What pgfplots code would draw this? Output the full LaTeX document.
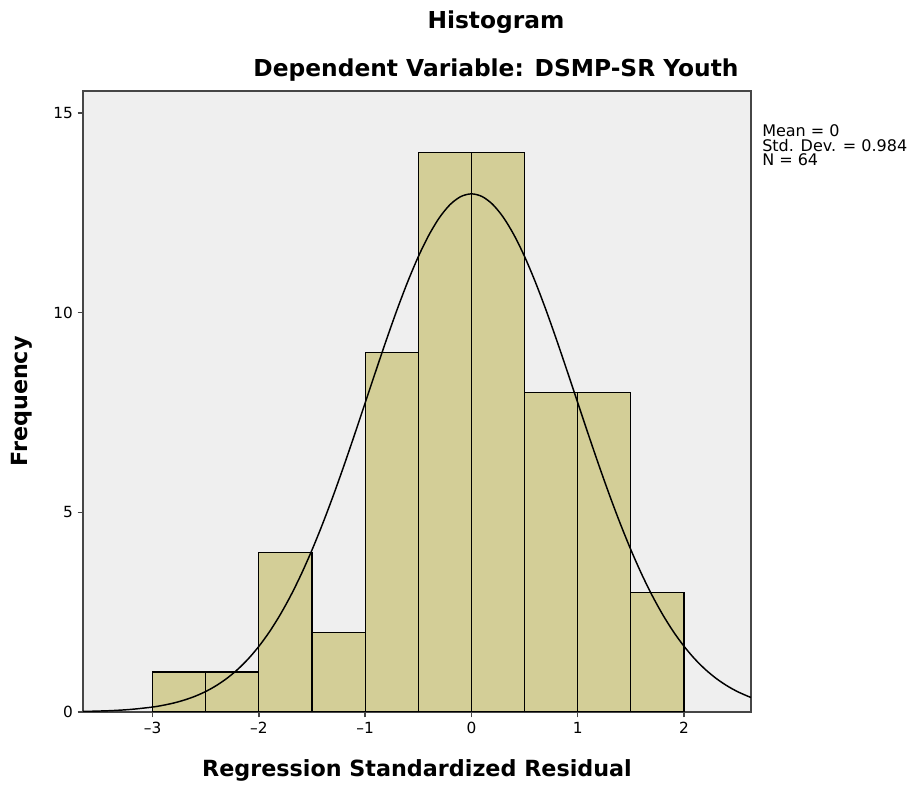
\documentclass[border=0pt]{standalone}
\usepackage{fontspec}
\setmainfont{DejaVu Sans}
\usepackage{pgfplots}
\pgfplotsset{compat=1.18}
\definecolor{barfill}{RGB}{211,206,151}
\definecolor{bg}{RGB}{239,239,239}
\definecolor{axgray}{RGB}{70,70,70}
\begin{document}
\begin{tikzpicture}
\useasboundingbox (-62.25pt,-56.25pt) rectangle (624.75pt,534pt);
\begin{axis}[
  scale only axis, width=501pt, height=465.75pt,
  xmin=-3.655, xmax=2.63, ymin=0, ymax=15.55,
  xtick={-3,-2,-1,0,1,2}, xticklabels={–3,–2,–1,0,1,2}, ytick={0,5,10,15},
  tick align=outside, tick pos=left, major tick length=4pt,
  axis background/.style={fill=bg},
  axis line style={axgray, line width=1.1pt},
  tick style={axgray, line width=1.1pt},
  ticklabel style={font=\fontsize{11.5}{13}\selectfont},
  /pgf/number format/assume math mode=true,
  xlabel={Regression Standardized Residual},
  ylabel={Frequency},
  label style={font=\bfseries\fontsize{16.7}{18}\selectfont},
  xlabel style={at={(axis description cs:0.5,-0.0934)}, anchor=center},
  ylabel style={at={(axis description cs:-0.0913,0.5)}, anchor=center},
]
\addplot[ybar interval, fill=barfill, draw=black, line width=0.85pt] coordinates {
  (-3,1) (-2.5,1) (-2,4) (-1.5,2) (-1,9) (-0.5,14) (0,14) (0.5,8) (1,8) (1.5,3) (2,3)};
\addplot[black, line width=1.1pt, smooth, mark=none] coordinates {
  (-3.655,0.013) (-3.4,0.033) (-3.2,0.066) (-3.0,0.124) (-2.9,0.169) (-2.8,0.226) (-2.7,0.301)
  (-2.6,0.395) (-2.5,0.514) (-2.4,0.663) (-2.3,0.845) (-2.2,1.066) (-2.1,1.331) (-2.0,1.645)
  (-1.9,2.011) (-1.8,2.435) (-1.7,2.917) (-1.6,3.459) (-1.5,4.060) (-1.4,4.716) (-1.3,5.421)
  (-1.2,6.168) (-1.1,6.946) (-1.0,7.741) (-0.9,8.539) (-0.8,9.323) (-0.7,10.074) (-0.6,10.773)
  (-0.5,11.403) (-0.4,11.945) (-0.3,12.385) (-0.2,12.709) (-0.1,12.907) (0,12.974)
  (0.1,12.907) (0.2,12.709) (0.3,12.385) (0.4,11.945) (0.5,11.403) (0.6,10.773) (0.7,10.074)
  (0.8,9.323) (0.9,8.539) (1.0,7.741) (1.1,6.946) (1.2,6.168) (1.3,5.421) (1.4,4.716)
  (1.5,4.060) (1.6,3.459) (1.7,2.917) (1.8,2.435) (1.9,2.011) (2.0,1.645) (2.1,1.331)
  (2.2,1.066) (2.3,0.845) (2.4,0.663) (2.5,0.514) (2.6,0.395) (2.63,0.365)};
\end{axis}
\node[font=\bfseries\fontsize{17.5}{19}\selectfont] at (309.75pt,517.5pt) {Histogram};
\node[font=\bfseries\fontsize{17.5}{19}\selectfont] at (309.75pt,481.5pt) {Dependent Variable: DSMP-SR Youth};
\node[anchor=north west, align=left, inner sep=0pt, font=\fontsize{12}{11.2}\selectfont] at (509.25pt,441pt) {Mean = 0\\Std. Dev. = 0.984\\N = 64};
\end{tikzpicture}
\end{document}
